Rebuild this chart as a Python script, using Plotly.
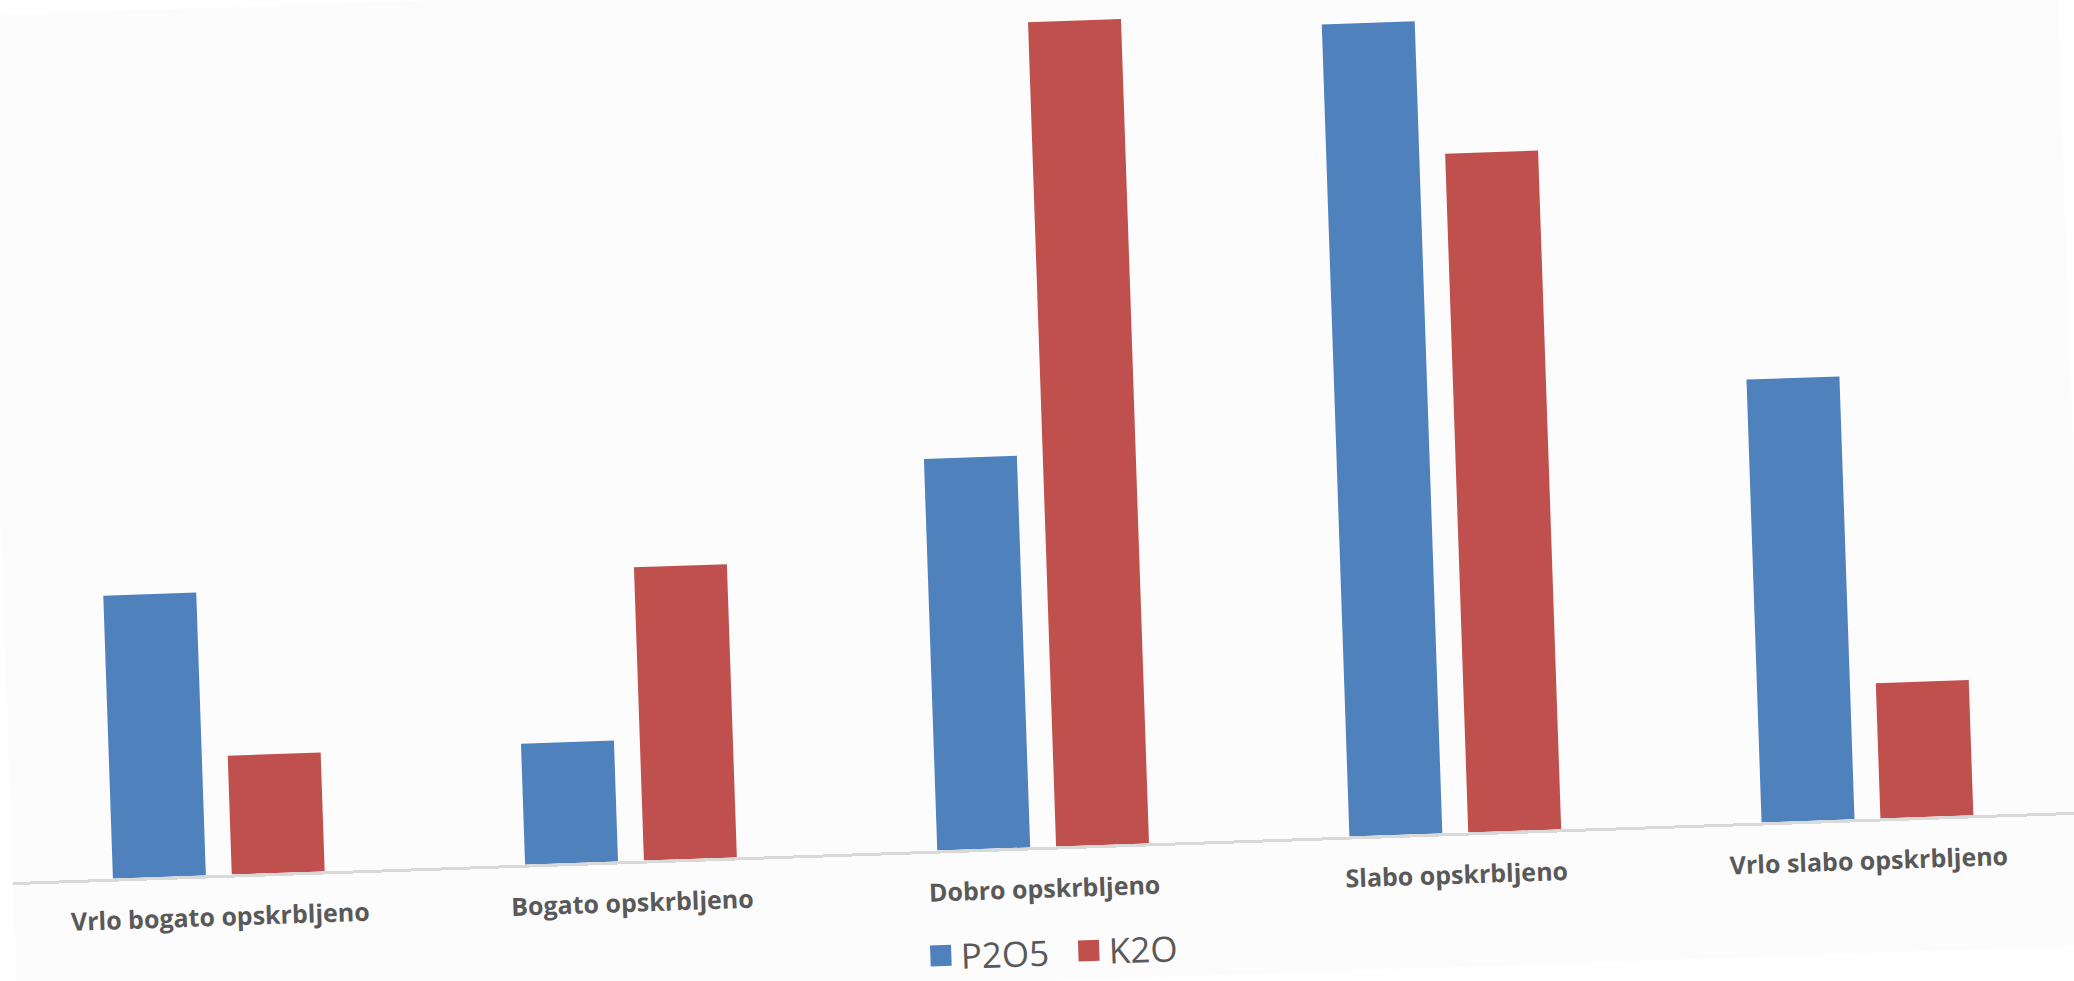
import plotly.graph_objects as go

categories = ["Vrlo bogato opskrbljeno", "Bogato opskrbljeno", "Dobro opskrbljeno",
              "Slabo opskrbljeno", "Vrlo slabo opskrbljeno"]
p2o5 = [13.8, 5.9, 19.1, 39.6, 21.6]
k2o = [5.8, 14.3, 40.2, 33.1, 6.6]
series_names = ["P2O5", "K2O"]
colors = ["#4f81bd", "#c0504d"]

fig = go.Figure()
for name, vals, col in zip(series_names, [p2o5, k2o], colors):
    fig.add_trace(go.Bar(x=categories, y=vals, name=name, marker_color=col,
                         marker_line_width=0, showlegend=False))
    fig.add_trace(go.Scatter(x=[None], y=[None], mode="markers", name=name,
                             marker=dict(symbol="square", size=16, color=col,
                                         line=dict(color=col, width=5))))

fig.update_layout(
    width=2074, height=1001, autosize=False,
    margin=dict(l=0, r=12, t=20, b=134),
    paper_bgcolor="#fcfcfc", plot_bgcolor="#fcfcfc",
    barmode="group", bargap=0.4234, bargroupgap=0.218,
    showlegend=True,
    legend=dict(orientation="h", xref="container", yref="container",
                x=0.4364, y=0.0286, xanchor="left", yanchor="middle",
                font=dict(family="Open Sans", size=35, color="#595959"),
                itemwidth=30, entrywidth=103, entrywidthmode="pixels",
                bgcolor="rgba(0,0,0,0)"),
    xaxis=dict(showline=True, linecolor="#d9d9d9", linewidth=2.5, ticks="",
               showgrid=False, ticklabelstandoff=18,
               tickfont=dict(family="Open Sans", size=25, color="#595959", weight=700)),
    yaxis=dict(range=[0, 41.28], visible=False, showgrid=False, zeroline=False),
)

post = """
var gd=document.getElementById('{plot_id}');
document.documentElement.style.margin='0';
document.body.style.margin='0';
document.body.style.overflow='hidden';
document.body.style.background='#ffffff';
gd.style.position='absolute'; gd.style.left='0px'; gd.style.top='-20px';
gd.style.transformOrigin='1037px 510.5px';
gd.style.transform='rotate(-1.95deg)';
"""

fig.write_html("out.html", config={"displayModeBar": False}, post_script=post)
